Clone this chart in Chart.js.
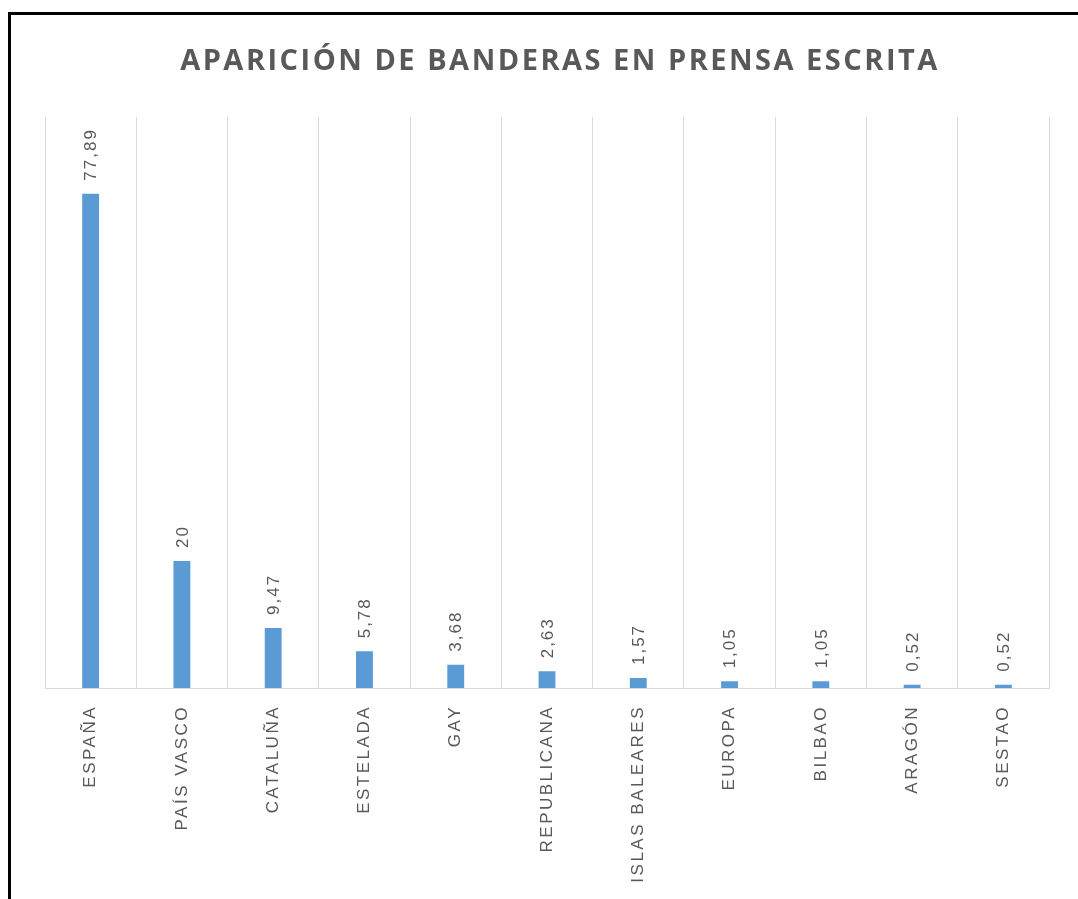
<!DOCTYPE html>
<html>
<head>
<meta charset="utf-8">
<script src="https://cdn.jsdelivr.net/npm/chart.js@4.4.1/dist/chart.umd.min.js"></script>
<style>
  body { margin: 0; background: #fff; }
  #frame { position: absolute; left: 8px; top: 12px; width: 1200px; height: 1000px;
           border-top: 3px solid #000; border-left: 3px solid #000; }
  #wrap { position: absolute; left: 0; top: 0; width: 1078px; height: 899px; }
</style>
</head>
<body>
<div id="frame"></div>
<div id="wrap"><canvas id="banderas_chart"></canvas></div>
<script>
// datos del grafico
const categorias = ['ESPAÑA', 'PAÍS VASCO', 'CATALUÑA', 'ESTELADA', 'GAY', 'REPUBLICANA',
  'ISLAS BALEARES', 'EUROPA', 'BILBAO', 'ARAGÓN', 'SESTAO'];
const valores = [77.89, 20, 9.47, 5.78, 3.68, 2.63, 1.57, 1.05, 1.05, 0.52, 0.52];
const yMax = 90;

const gris = '#595959';

// espaciado de letras + etiquetas de datos giradas
const etiquetasPlugin = {
  id: 'etiquetas',
  beforeDraw(chart) {
    chart.ctx.letterSpacing = '2.5px';
  },
  afterDatasetsDraw(chart) {
    const ctx = chart.ctx;
    const meta = chart.getDatasetMeta(0);
    ctx.save();
    ctx.letterSpacing = '2px';
    ctx.font = '17px "Liberation Sans", Arial, sans-serif';
    ctx.fillStyle = gris;
    ctx.textAlign = 'left';
    ctx.textBaseline = 'middle';
    meta.data.forEach((bar, i) => {
      ctx.save();
      ctx.translate(bar.x, bar.y - 13);
      ctx.rotate(-Math.PI / 2);
      ctx.fillText(String(valores[i]).replace('.', ','), 0, 1);
      ctx.restore();
    });
    ctx.restore();
  }
};

const ctx = document.getElementById('banderas_chart');

const banderasChart = new Chart(ctx, {
  type: 'bar',
  data: {
    labels: categorias,
    datasets: [{
      data: valores,
      backgroundColor: '#5B9BD5',
      borderWidth: 0,
      categoryPercentage: 1,
      barPercentage: 0.185
    }]
  },
  options: {
    responsive: true,
    maintainAspectRatio: false,
    animation: false,
    layout: { padding: { left: 42, right: 0, top: 0, bottom: 0 } },
    plugins: {
      legend: { display: false },
      tooltip: { enabled: false },
      title: {
        display: true,
        text: 'APARICIÓN DE BANDERAS EN PRENSA ESCRITA',
        color: gris,
        font: { family: '"Open Sans", sans-serif', size: 29, weight: 'bold' },
        padding: { top: 44, bottom: 38 }
      }
    },
    scales: {
      x: {
        grid: { color: '#D9D9D9', offset: true, drawTicks: false },
        border: { color: '#D9D9D9' },
        ticks: {
          color: gris,
          font: { family: '"Liberation Sans", Arial, sans-serif', size: 17 },
          minRotation: 90,
          maxRotation: 90,
          autoSkip: false,
          padding: 17
        },
        afterFit(scale) { scale.height = 211; }
      },
      y: {
        min: 0,
        max: yMax,
        grid: { display: false },
        border: { display: false },
        ticks: { display: false },
        afterFit(scale) { scale.width = 3; }
      },
      // eje vacio solo para dejar el margen derecho
      yDer: {
        position: 'right',
        min: 0,
        max: yMax,
        grid: { display: false },
        border: { display: false },
        ticks: { display: false },
        afterFit(scale) { scale.width = 29; }
      }
    }
  },
  plugins: [etiquetasPlugin]
});
</script>
</body>
</html>
